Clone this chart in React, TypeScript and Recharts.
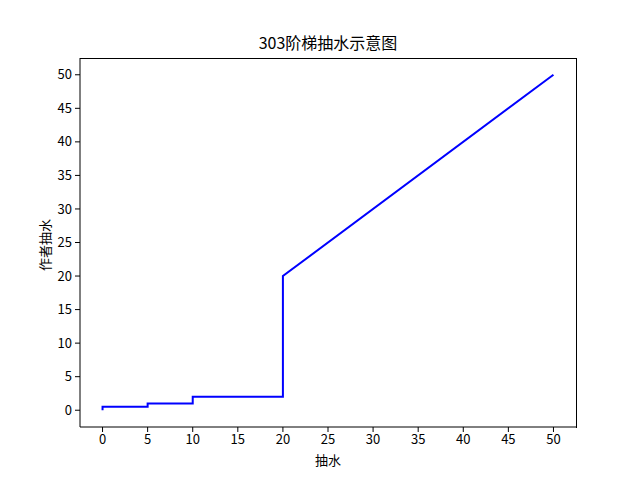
import { LineChart, Line, XAxis, YAxis } from "recharts";

// step points of the curve
const xValues = [0, 0, 5, 5, 10, 10, 20, 20, 50];
const yValues = [0, 0.5, 0.5, 1, 1, 2, 2, 20, 50];
const xTicks = [0, 5, 10, 15, 20, 25, 30, 35, 40, 45, 50];
const yTicks = [0, 5, 10, 15, 20, 25, 30, 35, 40, 45, 50];

const title = "303阶梯抽水示意图";
const xLabel = "抽水";
const yLabel = "作者抽水";

const data = xValues.map((x, i) => ({ x, y: yValues[i] }));

const font = "'Noto Sans CJK SC', 'Liberation Sans', sans-serif";
const tickStyle = { fill: "#000", fontSize: 13, fontFamily: font };

export default function App() {
  return (
    <div
      style={{
        position: "absolute",
        left: 0,
        top: 0,
        width: 640,
        height: 480,
        background: "#fff",
        fontFamily: font,
      }}
    >
      <div
        style={{
          position: "absolute",
          left: 80,
          width: 496,
          top: 30,
          textAlign: "center",
          fontSize: 16,
          color: "#000",
        }}
      >
        {title}
      </div>
      <div
        style={{
          position: "absolute",
          left: 80,
          width: 496,
          top: 450,
          textAlign: "center",
          fontSize: 13,
          color: "#000",
        }}
      >
        {xLabel}
      </div>
      <div
        style={{
          position: "absolute",
          left: 44,
          top: 245,
          transform: "translate(-50%, -50%) rotate(-90deg)",
          whiteSpace: "nowrap",
          fontSize: 13,
          color: "#000",
        }}
      >
        {yLabel}
      </div>
      <LineChart
        width={640}
        height={480}
        data={data}
        margin={{ top: 58, right: 64, bottom: 23, left: 40 }}
      >
        <XAxis
          dataKey="x"
          type="number"
          domain={[-2.5, 52.5]}
          ticks={xTicks}
          allowDataOverflow
          height={30}
          tickSize={5}
          tickMargin={3}
          tick={tickStyle}
          stroke="#000"
          axisLine={{ stroke: "#000" }}
          tickLine={{ stroke: "#000" }}
        />
        <YAxis
          type="number"
          domain={[-2.5, 52.5]}
          ticks={yTicks}
          allowDataOverflow
          width={40}
          tickSize={5}
          tickMargin={3}
          tick={tickStyle}
          stroke="#000"
          axisLine={{ stroke: "#000" }}
          tickLine={{ stroke: "#000" }}
        />
        <Line
          dataKey="y"
          type="linear"
          stroke="#0000ff"
          strokeWidth={2}
          dot={false}
          isAnimationActive={false}
        />
      </LineChart>
      {/* top and right spines of the axes frame */}
      <div
        style={{
          position: "absolute",
          left: 80,
          top: 58,
          width: 496,
          height: 369,
          borderTop: "1px solid #000",
          borderRight: "1px solid #000",
          pointerEvents: "none",
        }}
      />
    </div>
  );
}
